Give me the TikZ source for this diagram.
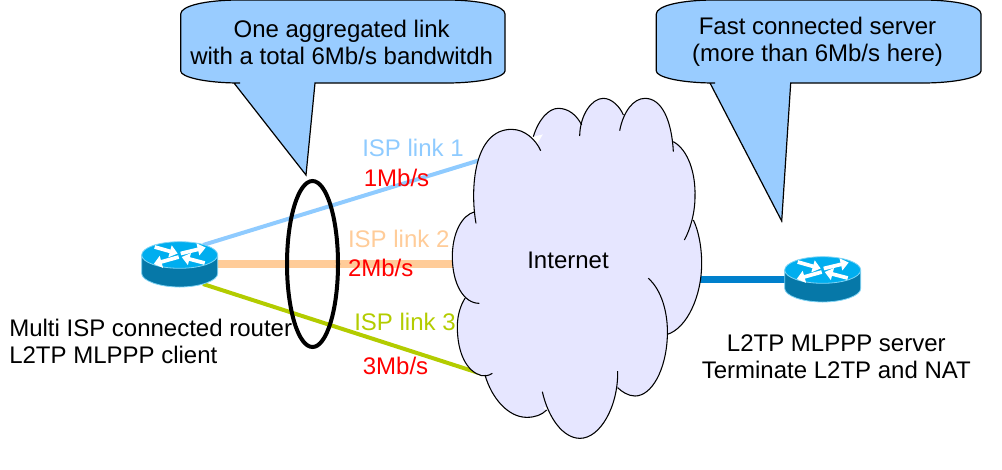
\documentclass[tikz,border=0pt]{standalone}
\usepackage{fontspec}
\setmainfont{Liberation Sans}
\usetikzlibrary{arrows.meta}
\definecolor{callfill}{HTML}{99CCFF}
\definecolor{cloudfill}{HTML}{E6E6FF}
\definecolor{linkone}{HTML}{8FCBFF}
\definecolor{linktwo}{HTML}{FFCC99}
\definecolor{linkthree}{HTML}{B3CC00}
\definecolor{linkserver}{HTML}{0080CC}
\definecolor{routertop}{HTML}{00AEEF}
\definecolor{routerside}{HTML}{0678A8}
\definecolor{routeredge}{HTML}{7FD4F5}
\tikzset{
  txt/.style={font=\fontsize{18pt}{20.25pt}\selectfont,inner sep=0pt,text=black},
  basetxt/.style={txt,anchor=base},
  twoline/.style={txt,align=center},
  call/.style={draw=black,fill=callfill,line width=0.9pt,line join=miter},
  link/.style={line width=3pt},
  fatlink/.style={line width=5.4pt},
  lobe/.style={draw=black,fill=cloudfill,line width=0.8pt},
  routerarrow/.style={draw=white,line width=2.8pt,-{Triangle[length=6pt,width=9pt,fill=white]}},
  router/.pic={
    \path[fill=routerside,draw=routeredge,line width=0.6pt] (-38,0) -- (-38,18.5) .. controls (-38,25.5) and (-21,32) .. (0,32) .. controls (21,32) and (38,25.5) .. (38,18.5) -- (38,0) -- cycle;
    \path[fill=routertop,draw=routeredge,line width=0.6pt] (0,0) ellipse [x radius=38,y radius=13.3];
    \draw[routerarrow] (-25,-8) -- (-2,-1.5);
    \draw[routerarrow] (25,8) -- (2,2);
    \draw[routerarrow] (1,-1.5) -- (26,-7.5);
    \draw[routerarrow] (-1,2) -- (-26,9);
  }
}
\begin{document}
\begin{tikzpicture}[x=0.75pt,y=-0.75pt]
\useasboundingbox (0,0) rectangle (1002,469);
% connector end points
\coordinate (clientA) at (203,245);
\coordinate (clientB) at (217,264);
\coordinate (clientC) at (203,284);
\coordinate (cloudA) at (490,157);
\coordinate (cloudB) at (460,264);
\coordinate (cloudC) at (482,374);
\coordinate (cloudD) at (695,279.5);
\coordinate (serverA) at (790,279.5);
% links
\draw[link,linkone] (clientA) -- (cloudA);
\draw[fatlink,linktwo] (clientB) -- (cloudB);
\draw[link,linkthree] (clientC) -- (cloudC);
\draw[fatlink,linkserver] (cloudD) -- (serverA);
% cloud
\begin{scope}[shift={(430,90)},x=0.25pt,y=-0.25pt]
\fill[cloudfill] (140,390) -- (245,118) -- (320,165) -- (385,55) -- (450,110) -- (520,25) -- (575,80) -- (645,25) -- (730,160) -- (795,320) -- (785,400) -- (815,520) -- (712,733) -- (680,800) -- (615,918) -- (563,893) -- (450,1045) -- (345,950) -- (290,982) -- (165,857) -- (82,710) -- (105,625) -- (67,500) -- (135,365) -- cycle;
\path[lobe]
 (138,400) .. controls (120,300) and (130,118) .. (245,118) .. controls (285,118) and (318,150) .. (332,182)
 (310,140) .. controls (325,90) and (355,55) .. (385,55) .. controls (415,55) and (440,75) .. (455,105)
 (449,138) .. controls (450,75) and (485,25) .. (520,25) .. controls (545,25) and (570,50) .. (580,75)
 (569,122) .. controls (580,65) and (610,25) .. (645,25) .. controls (695,25) and (725,90) .. (730,185)
 (730,155) .. controls (775,180) and (797,250) .. (795,320) .. controls (795,370) and (780,420) .. (763,450)
 (790,390) .. controls (805,420) and (815,470) .. (815,520) .. controls (815,620) and (770,715) .. (712,733)
 (655,565) .. controls (695,600) and (715,670) .. (712,740) .. controls (708,840) and (665,918) .. (615,918) .. controls (595,918) and (575,905) .. (563,893)
 (563,843) .. controls (565,950) and (510,1045) .. (450,1045) .. controls (400,1045) and (355,985) .. (337,905)
 (350,960) .. controls (335,975) and (315,982) .. (290,982) .. controls (235,982) and (185,925) .. (165,855)
 (187,850) .. controls (175,858) and (165,858) .. (155,857) .. controls (110,845) and (82,790) .. (82,710) .. controls (82,675) and (92,645) .. (105,625)
 (148,640) .. controls (100,640) and (67,580) .. (67,500) .. controls (67,430) and (95,375) .. (135,365);
\end{scope}
% routers
\pic (clientrouter) at (179.7,255) {router};
\pic (serverrouter) at (822.7,270) {router};
% aggregation ellipse
\draw[black,line width=3pt] (312.5,264) ellipse [x radius=25.5,y radius=83];
% callouts
\path[call] (180.7,14) .. controls (180.7,6) and (205,0) .. (240,0) -- (446,0) .. controls (481,0) and (505,6) .. (505,14)
  -- (505,71) .. controls (505,77) and (481,83) .. (446,83) -- (315,83) -- (306,175) -- (234,83) -- (240,83) .. controls (205,83) and (180.7,77) .. (180.7,71) -- cycle;
\path[call] (656.3,14) .. controls (656.3,6) and (680,0) .. (715,0) -- (922,0) .. controls (957,0) and (981,6) .. (981,14)
  -- (981,71) .. controls (981,77) and (957,83) .. (922,83) -- (790.7,83) -- (781.7,221) -- (710,83) -- (715,83) .. controls (680,83) and (656.3,77) .. (656.3,71) -- cycle;
% texts
\node[twoline] (calloutleft) at (341.7,42) {One aggregated link\\with a total 6Mb/s bandwitdh};
\node[twoline] (calloutright) at (817.5,42) {Fast connected server\\(more than 6Mb/s here)};
\node[twoline,align=left,anchor=west] (clientlabel) at (9,341) {Multi ISP connected router\\L2TP MLPPP client};
\node[twoline] (serverlabel) at (836.3,357) {L2TP MLPPP server\\Terminate L2TP and NAT};
\node[basetxt] (internet) at (568,268.5) {Internet};
\node[basetxt,text=linkone] (ispone) at (413,156.5) {ISP link 1};
\node[basetxt,text=linktwo] (isptwo) at (398.7,247.5) {ISP link 2};
\node[basetxt,text=linkthree] (ispthree) at (405,330.5) {ISP link 3};
\node[basetxt,text=red] (rateone) at (396.5,186.5) {1Mb/s};
\node[basetxt,text=red] (ratetwo) at (380.7,276) {2Mb/s};
\node[basetxt,text=red] (ratethree) at (395.5,374.5) {3Mb/s};
\end{tikzpicture}
\end{document}
